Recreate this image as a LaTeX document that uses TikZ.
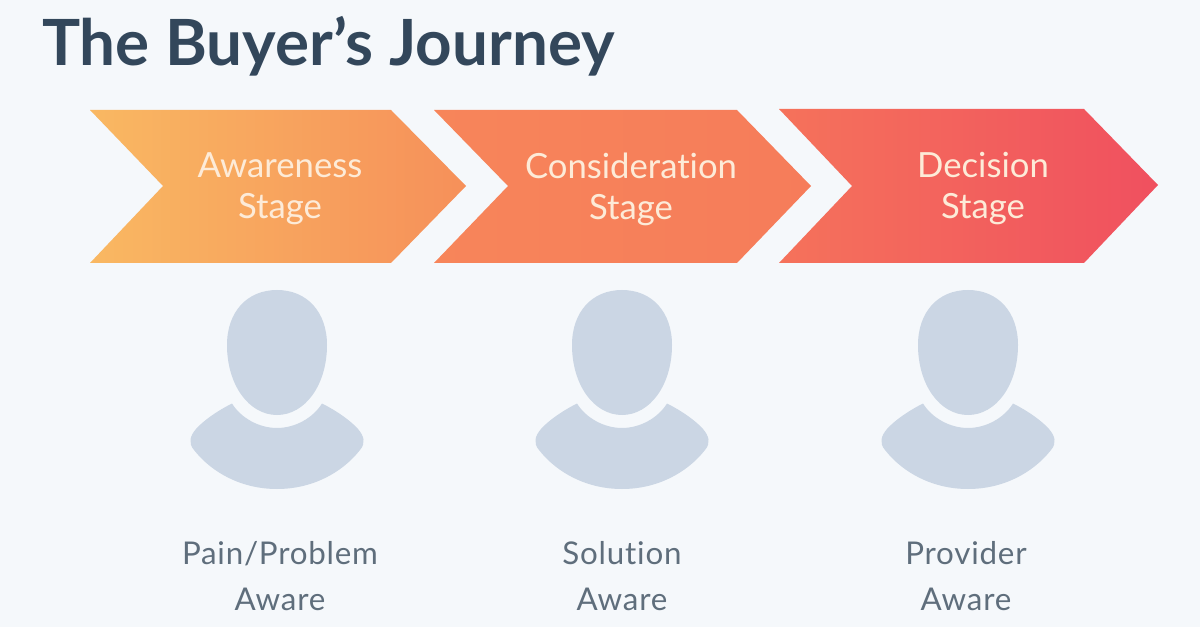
\documentclass[tikz,border=0pt]{standalone}
\usepackage{fontspec}
\setmainfont{Lato}[Ligatures=NoCommon]
\definecolor{bgc}{HTML}{F5F8FB}
\definecolor{titlec}{HTML}{33475B}
\definecolor{personc}{HTML}{CBD6E4}
\definecolor{labelc}{HTML}{5F6E7C}
\definecolor{stagec}{HTML}{FDEBD8}
\definecolor{ca}{HTML}{F9B862}
\definecolor{cb}{HTML}{F6905A}
\definecolor{cc}{HTML}{F7855A}
\definecolor{cd}{HTML}{F67C5A}
\definecolor{ce}{HTML}{F5725B}
\definecolor{cf}{HTML}{F0505F}
\tikzset{
  x=0.75pt,y=-0.75pt,
  titletext/.style={text=titlec,font=\fontsize{47.8}{50}\selectfont\bfseries,anchor=base west,inner sep=0pt},
  stagetext/.style={text=stagec,font=\fontsize{26}{30.75}\selectfont,align=center,inner sep=0pt},
  awaretext/.style={text=labelc,font=\fontsize{23.5}{34}\selectfont\addfontfeatures{LetterSpace=2.5},align=center,inner sep=0pt},
  personshape/.style={fill=personc,draw=none},
  person/.pic={
    \path[personshape] (0,290) .. controls (30,290) and (50,312) .. (50,345)
      .. controls (50,385) and (28,415) .. (0,415)
      .. controls (-28,415) and (-50,385) .. (-50,345)
      .. controls (-50,312) and (-30,290) .. (0,290) -- cycle;
    \path[personshape] (-45,403.5) .. controls (-36,418) and (-18,428) .. (0,428)
      .. controls (18,428) and (36,418) .. (45,403.5)
      .. controls (60,411) and (74,421) .. (81,429)
      .. controls (87,436) and (89,443) .. (83,450)
      .. controls (65,473) and (35,489) .. (0,489)
      .. controls (-35,489) and (-65,473) .. (-83,450)
      .. controls (-89,443) and (-87,436) .. (-81,429)
      .. controls (-74,421) and (-60,411) .. (-45,403.5) -- cycle;
  }
}
\begin{document}
\begin{tikzpicture}
\path[fill=bgc] (0,0) rectangle (1200,627);
\useasboundingbox (0,0) rectangle (1200,627);
\node[titletext] (title) at (42,66) {The Buyer’s Journey};
\path[left color=ca,right color=cb] (90,110) -- (391,110) -- (466,186) -- (391,263) -- (90,263) -- (163,186) -- cycle;
\path[left color=cc,right color=cd] (434,110) -- (737,110) -- (811,186) -- (737,263) -- (434,263) -- (508,186) -- cycle;
\path[left color=ce,right color=cf] (779,109) -- (1084,109) -- (1158,185) -- (1084,263) -- (779,263) -- (852,186) -- cycle;
\node[stagetext] (s1) at (280,189) {Awareness\\Stage};
\node[stagetext] (s2) at (631,189) {Consideration\\Stage};
\node[stagetext] (s3) at (983,189) {Decision\\Stage};
\pic (p1) at (277,0) {person};
\pic (p2) at (622,0) {person};
\pic (p3) at (968,0) {person};
\node[awaretext] (a1) at (280,576) {Pain/Problem\\Aware};
\node[awaretext] (a2) at (622,576) {Solution\\Aware};
\node[awaretext] (a3) at (966,576) {Provider\\Aware};
\end{tikzpicture}
\end{document}
